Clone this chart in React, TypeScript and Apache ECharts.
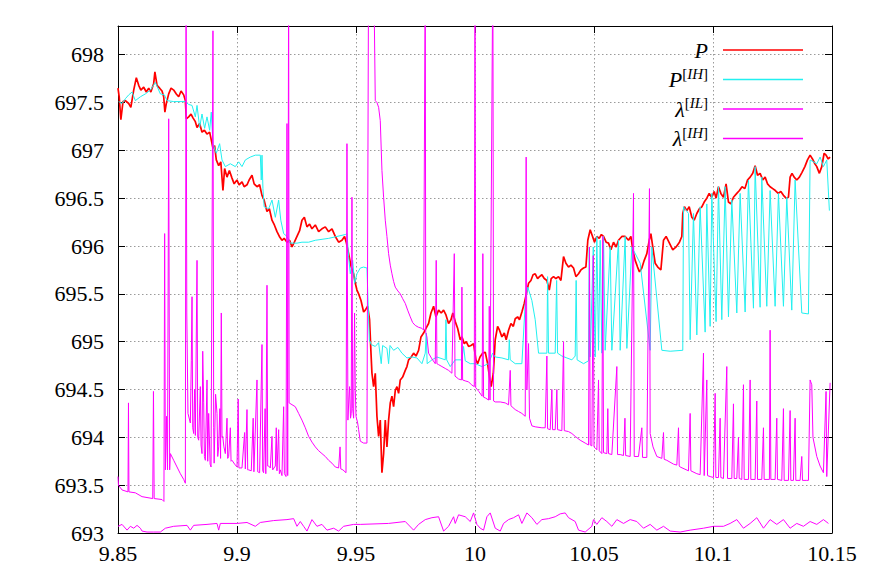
import React, { useEffect, useRef } from "react";
import * as echarts from "echarts";

// x tick and y tick settings
const X_MIN = 9.85;
const X_MAX = 10.15;
const X_STEP = 0.05;
const Y_MIN = 693;
const Y_MAX = 698.3;
const Y_STEP = 0.5;

const SERIES_NAMES = ["P", "P[IH]", "λ[IL]", "λ[IH]"];

const P_DATA: [number, number][] = [
  [9.85,697.65],[9.8505,697.56],[9.8512,697.32],[9.8521,697.51],[9.8531,697.52],[9.8545,697.49],[9.8554,697.45],[9.8566,697.63],[9.8577,697.76],[9.8587,697.68],[9.8596,697.63],[9.8608,697.66],[9.8619,697.61],[9.8629,697.65],[9.8638,697.61],[9.865,697.7],[9.8655,697.82],[9.8664,697.68],[9.8675,697.65],[9.8685,697.62],[9.8692,697.56],[9.8697,697.4],[9.8703,697.49],[9.8713,697.59],[9.8723,697.65],[9.8734,697.63],[9.8745,697.59],[9.8755,697.56],[9.8765,697.62],[9.8776,697.58],[9.8783,697.52],[9.8787,697.33],[9.8797,697.35],[9.8807,697.38],[9.8815,697.34],[9.8825,697.3],[9.8832,697.24],[9.8843,697.28],[9.8853,697.19],[9.8863,697.21],[9.8874,697.17],[9.8885,697.19],[9.8891,697.12],[9.8899,697.02],[9.8906,697.05],[9.8913,696.9],[9.8923,696.84],[9.8932,696.88],[9.8941,696.58],[9.8948,696.81],[9.8958,696.72],[9.8968,696.79],[9.8979,696.71],[9.8988,696.65],[9.9,696.69],[9.9009,696.64],[9.9021,696.67],[9.903,696.62],[9.9042,696.64],[9.9051,696.69],[9.9063,696.74],[9.9072,696.65],[9.9084,696.62],[9.9095,696.64],[9.9105,696.53],[9.9114,696.48],[9.9126,696.36],[9.9136,696.39],[9.9147,696.27],[9.9157,696.22],[9.9168,696.15],[9.9178,696.1],[9.9189,696.06],[9.9198,696.08],[9.921,696.04],[9.9221,696.06],[9.9231,695.99],[9.9241,696.04],[9.9252,696.1],[9.9263,696.16],[9.9273,696.27],[9.9283,696.3],[9.9294,696.2],[9.9305,696.23],[9.9315,696.18],[9.9329,696.22],[9.9343,696.15],[9.9357,696.18],[9.9371,696.2],[9.9385,696.15],[9.9399,696.18],[9.9413,696.1],[9.9427,696.04],[9.9441,696.06],[9.9452,696.1],[9.9459,696.04],[9.9469,695.92],[9.948,695.78],[9.949,695.71],[9.9497,695.61],[9.9504,695.54],[9.9511,695.5],[9.9521,695.43],[9.9532,695.31],[9.9539,695.33],[9.9549,695.37],[9.9557,695.23],[9.9563,694.88],[9.9567,694.67],[9.9574,694.53],[9.9581,694.67],[9.9588,694.22],[9.9595,694.01],[9.9602,694.18],[9.9609,693.63],[9.9616,693.83],[9.9623,694.18],[9.963,693.9],[9.9637,694.18],[9.9644,694.36],[9.9651,694.43],[9.9658,694.32],[9.9665,694.49],[9.9672,694.53],[9.9679,694.46],[9.9686,694.6],[9.9696,694.63],[9.9707,694.7],[9.9714,694.74],[9.9721,694.81],[9.9732,694.84],[9.9742,694.88],[9.9752,694.85],[9.9763,694.91],[9.9773,695.05],[9.9784,695.09],[9.9794,695.14],[9.9805,695.19],[9.9815,695.3],[9.9826,695.37],[9.9836,695.26],[9.9847,695.33],[9.9858,695.3],[9.9868,695.33],[9.9878,695.28],[9.9889,695.19],[9.9899,695.23],[9.9907,695.3],[9.9917,695.21],[9.9927,695.14],[9.9938,695.02],[9.9945,695.05],[9.9955,694.98],[9.9963,695.0],[9.9973,694.95],[9.9983,694.96],[9.9994,694.98],[10.0004,694.81],[10.0011,694.77],[10.0021,694.84],[10.0032,694.88],[10.0043,694.89],[10.0053,694.77],[10.0061,694.63],[10.0068,694.53],[10.0077,694.67],[10.0085,695.02],[10.0095,695.16],[10.0103,695.12],[10.0113,695.05],[10.0123,695.09],[10.0131,695.02],[10.0141,695.12],[10.0151,695.19],[10.0161,695.16],[10.0169,695.24],[10.0179,695.26],[10.0187,695.23],[10.0197,695.31],[10.0207,695.4],[10.0215,695.49],[10.0225,695.61],[10.0235,695.64],[10.0244,695.7],[10.0253,695.71],[10.0263,695.66],[10.0271,695.68],[10.0281,695.7],[10.0291,695.66],[10.0302,695.64],[10.0312,695.54],[10.032,695.66],[10.033,695.68],[10.034,695.66],[10.0351,695.68],[10.0361,695.64],[10.0372,695.89],[10.0382,695.82],[10.0393,695.78],[10.0403,695.8],[10.0414,695.77],[10.0424,695.68],[10.0435,695.71],[10.0445,695.75],[10.0456,695.77],[10.0466,695.78],[10.0474,696.06],[10.0484,696.17],[10.0494,696.1],[10.0502,696.04],[10.0512,696.1],[10.0522,696.08],[10.0531,696.12],[10.054,696.1],[10.0551,696.04],[10.0561,696.03],[10.0571,695.96],[10.0582,696.04],[10.0593,695.99],[10.0603,696.06],[10.0617,696.1],[10.0631,696.1],[10.0645,696.06],[10.0655,696.1],[10.0663,695.96],[10.0673,695.85],[10.0683,695.78],[10.0691,695.73],[10.0701,695.77],[10.0711,695.85],[10.0722,695.92],[10.0732,696.06],[10.0739,696.13],[10.0747,695.99],[10.0757,695.82],[10.0768,695.78],[10.0781,695.75],[10.0792,696.06],[10.0803,696.1],[10.0817,696.03],[10.0831,695.96],[10.0845,695.99],[10.0859,696.04],[10.0869,696.1],[10.0873,696.34],[10.088,696.41],[10.089,696.37],[10.09,696.41],[10.0911,696.3],[10.0921,696.27],[10.0932,696.34],[10.0943,696.39],[10.0953,696.41],[10.0963,696.46],[10.0974,696.5],[10.0984,696.55],[10.0994,696.51],[10.1005,696.57],[10.1013,696.5],[10.1023,696.62],[10.1033,696.55],[10.1044,696.51],[10.1055,696.65],[10.1065,696.46],[10.1075,696.44],[10.1086,696.51],[10.11,696.55],[10.1111,696.58],[10.1122,696.62],[10.1134,696.6],[10.1145,696.69],[10.1156,696.72],[10.1167,696.76],[10.1177,696.84],[10.1187,696.74],[10.1198,696.76],[10.1209,696.69],[10.1219,696.72],[10.1229,696.65],[10.124,696.62],[10.1251,696.6],[10.1262,696.58],[10.1274,696.55],[10.1285,696.57],[10.1296,696.53],[10.1307,696.5],[10.1317,696.51],[10.1324,696.72],[10.1332,696.76],[10.1341,696.72],[10.1352,696.69],[10.1363,696.72],[10.1374,696.77],[10.1386,696.83],[10.1397,696.9],[10.1408,696.95],[10.1418,696.91],[10.1428,696.86],[10.1436,696.83],[10.1447,696.76],[10.1457,696.83],[10.1467,696.97],[10.1475,696.95],[10.1484,696.91],[10.1492,696.93]
];

const PIH_DATA: [number, number][] = [
  [9.8503,697.51],[9.8517,697.49],[9.8531,697.54],[9.8545,697.58],[9.8559,697.61],[9.8573,697.52],[9.8594,697.56],[9.8615,697.59],[9.8636,697.63],[9.8657,697.71],[9.8678,697.59],[9.8695,697.58],[9.8706,697.52],[9.8734,697.51],[9.8783,697.51],[9.8797,697.48],[9.8811,697.47],[9.8825,697.35],[9.8832,697.47],[9.8843,697.24],[9.8853,697.38],[9.8864,697.23],[9.8874,697.35],[9.8885,697.21],[9.8892,697.4],[9.8899,697.07],[9.8913,696.97],[9.8927,697.07],[9.8937,696.9],[9.8951,696.83],[9.8972,696.86],[9.8993,696.83],[9.9007,696.88],[9.9021,696.83],[9.9035,696.9],[9.9056,696.93],[9.9077,696.95],[9.9098,696.95],[9.9102,696.69],[9.9105,696.95],[9.9109,696.6],[9.9114,696.41],[9.9133,696.39],[9.9147,696.48],[9.9161,696.3],[9.9175,696.48],[9.9184,696.27],[9.9196,696.13],[9.921,696.1],[9.9224,696.03],[9.9252,696.03],[9.9273,696.04],[9.9301,696.04],[9.9329,696.06],[9.9385,696.08],[9.9455,696.12],[9.9462,696.13],[9.9469,695.89],[9.9476,695.71],[9.9486,695.85],[9.9494,695.61],[9.9504,695.71],[9.9518,695.77],[9.9532,695.78],[9.9546,695.77],[9.9556,695.02],[9.9564,694.97],[9.9581,694.95],[9.9595,694.99],[9.9606,694.77],[9.9612,694.96],[9.963,694.93],[9.9637,694.77],[9.9643,694.96],[9.9658,694.91],[9.9676,694.94],[9.9693,694.88],[9.9714,694.83],[9.9735,694.84],[9.9756,694.83],[9.9777,694.77],[9.9791,694.88],[9.9795,695.09],[9.9799,694.77],[9.9819,694.81],[9.984,694.84],[9.9875,694.81],[9.9878,695.23],[9.9881,694.81],[9.9896,694.74],[9.9917,694.81],[9.9945,694.81],[9.9952,694.95],[9.9959,694.8],[9.998,694.77],[10.0001,694.77],[10.0029,694.74],[10.0057,694.77],[10.0074,694.88],[10.0085,694.84],[10.0113,694.83],[10.0141,694.81],[10.0144,695.02],[10.0148,694.81],[10.0169,694.77],[10.0197,694.77],[10.0211,695.4],[10.0222,695.57],[10.0239,695.43],[10.0253,695.23],[10.0267,694.88],[10.0302,694.88],[10.0305,695.68],[10.0309,694.88],[10.0337,694.88],[10.0343,695.64],[10.0347,694.88],[10.0365,694.85],[10.0386,694.83],[10.0407,694.81],[10.0421,694.85],[10.0425,695.64],[10.0429,694.81],[10.0456,694.77],[10.0477,694.8],[10.048,695.99],[10.0484,694.84],[10.0497,695.99],[10.0505,694.84],[10.0512,696.1],[10.0519,694.91],[10.0526,696.06],[10.0533,694.88],[10.054,696.1],[10.0547,694.91],[10.0568,695.99],[10.0575,694.91],[10.0603,696.06],[10.061,694.91],[10.0631,696.1],[10.0638,694.93],[10.0659,695.99],[10.0694,695.82],[10.0736,694.91],[10.0743,695.99],[10.0785,694.91],[10.082,694.9],[10.0873,694.91],[10.0876,696.41],[10.0897,696.34],[10.0904,695.02],[10.0918,696.34],[10.0932,695.07],[10.0946,696.41],[10.0967,695.1],[10.0974,696.44],[10.0988,695.16],[10.0995,696.55],[10.1013,695.21],[10.1023,696.62],[10.1037,695.23],[10.1051,696.62],[10.1065,695.26],[10.1079,696.48],[10.11,695.3],[10.1114,696.55],[10.1135,695.31],[10.1149,696.69],[10.117,695.35],[10.1177,696.83],[10.1198,695.36],[10.1205,696.72],[10.1226,695.37],[10.124,696.58],[10.1261,695.37],[10.1275,696.55],[10.1296,695.37],[10.131,696.51],[10.1331,695.33],[10.1345,696.69],[10.1373,695.3],[10.1401,695.29],[10.1408,696.9],[10.1436,696.86],[10.145,696.93],[10.1464,696.83],[10.1478,696.9],[10.1489,696.37]
];

const LIL_DATA: [number, number][] = [
  [9.85,693.59],[9.8502,693.5],[9.8517,693.45],[9.8542,693.43],[9.8544,694.36],[9.8546,693.43],[9.8573,693.42],[9.8601,693.38],[9.8646,693.36],[9.8649,694.48],[9.8652,693.36],[9.8685,693.35],[9.8693,693.33],[9.8696,696.13],[9.8699,693.66],[9.8704,694.22],[9.8708,693.66],[9.8713,697.33],[9.8717,693.66],[9.872,693.83],[9.8734,693.76],[9.8748,693.69],[9.8762,693.62],[9.8776,693.56],[9.8783,693.52],[9.8786,699],[9.8789,695.3],[9.8794,694.25],[9.8804,694.15],[9.8808,694.8],[9.8811,695.47],[9.8814,694.1],[9.8818,694.04],[9.8822,694.5],[9.8825,694.02],[9.8832,695.85],[9.8835,694.0],[9.8839,693.97],[9.8846,694.53],[9.8849,693.92],[9.8853,693.83],[9.8856,694.9],[9.886,694.36],[9.8863,693.8],[9.8867,693.76],[9.8874,694.6],[9.8877,693.75],[9.8881,694.25],[9.8887,693.72],[9.8891,693.69],[9.8899,698.25],[9.8902,694.1],[9.8904,693.73],[9.891,694.45],[9.8916,694.25],[9.8919,693.8],[9.8923,693.9],[9.8928,694.3],[9.8931,693.78],[9.8934,695.3],[9.8937,694.0],[9.894,694.01],[9.8945,693.9],[9.8951,693.83],[9.8958,694.2],[9.8961,693.78],[9.8965,693.8],[9.8972,694.1],[9.8975,693.75],[9.8979,693.76],[9.899,693.72],[9.9,693.69],[9.9005,694.4],[9.9008,693.68],[9.9021,693.68],[9.9032,694.05],[9.9035,693.67],[9.9042,694.29],[9.9045,693.66],[9.9049,693.66],[9.906,693.65],[9.9068,694.2],[9.9071,693.64],[9.9084,694.6],[9.9087,693.64],[9.9095,693.63],[9.9105,694.97],[9.9108,693.65],[9.9112,693.63],[9.9118,694.3],[9.9121,693.62],[9.9126,695.59],[9.9129,693.7],[9.9133,693.7],[9.914,693.68],[9.9147,694.01],[9.915,693.66],[9.9161,693.7],[9.9165,694.1],[9.9168,693.65],[9.9175,694.08],[9.9178,693.62],[9.9182,693.66],[9.9189,693.6],[9.9196,694.32],[9.9199,693.62],[9.9206,693.59],[9.921,697.28],[9.9213,693.6],[9.9217,699],[9.9219,694.36],[9.9245,694.32],[9.9259,694.25],[9.9273,694.18],[9.9287,694.1],[9.9301,694.01],[9.9315,693.95],[9.9329,693.9],[9.9343,693.86],[9.9357,693.83],[9.9371,693.8],[9.9385,693.76],[9.9399,693.73],[9.9413,693.69],[9.9427,693.68],[9.9433,693.9],[9.9436,693.67],[9.9445,693.66],[9.9458,693.63],[9.9462,697.07],[9.9466,694.18],[9.947,694.4],[9.9473,694.53],[9.9477,694.2],[9.948,694.25],[9.9483,696.51],[9.9486,694.3],[9.949,694.2],[9.9494,695.3],[9.9497,694.49],[9.95,694.22],[9.9507,694.15],[9.9511,694.08],[9.9518,693.96],[9.9532,693.94],[9.9546,693.94],[9.9553,699],[9.9574,699],[9.9581,697.52],[9.9588,697.5],[9.9595,697.45],[9.9602,697.31],[9.9609,696.79],[9.9616,696.51],[9.9623,696.27],[9.963,696.1],[9.9637,695.92],[9.9644,695.8],[9.9651,695.71],[9.9658,695.63],[9.9665,695.57],[9.9676,695.53],[9.9686,695.5],[9.9696,695.45],[9.9707,695.4],[9.9717,695.33],[9.9728,695.26],[9.9738,695.2],[9.9749,695.17],[9.9763,695.15],[9.9777,695.14],[9.9784,695.12],[9.9791,699],[9.9793,695.1],[9.9798,695.05],[9.9805,694.88],[9.9819,694.82],[9.9833,694.77],[9.9837,695.85],[9.984,694.77],[9.9847,694.76],[9.9861,694.74],[9.9875,694.72],[9.9889,694.7],[9.9903,694.67],[9.9913,695.92],[9.9916,694.64],[9.9931,694.61],[9.9943,694.6],[9.9945,695.57],[9.9948,694.6],[9.9959,694.59],[9.9973,694.58],[9.9985,694.55],[9.9997,694.53],[10.0,699],[10.0003,694.52],[10.0016,694.48],[10.003,694.43],[10.0033,695.92],[10.0036,694.42],[10.0045,694.41],[10.0057,694.39],[10.006,695.37],[10.0063,694.39],[10.0075,699],[10.0078,694.38],[10.0085,694.37],[10.0106,694.37],[10.0127,694.36],[10.0141,694.34],[10.0148,694.7],[10.0151,694.33],[10.0169,694.29],[10.0183,694.27],[10.0197,694.25],[10.0211,694.22],[10.0215,696.93],[10.0218,694.5],[10.0225,694.98],[10.0229,694.2],[10.0239,694.12],[10.0253,694.11],[10.0281,694.1],[10.0295,694.1],[10.0302,694.85],[10.0305,694.09],[10.0316,694.08],[10.0323,694.5],[10.0326,694.08],[10.0337,694.08],[10.0344,694.5],[10.0347,694.08],[10.0365,694.07],[10.0372,695.0],[10.0375,694.07],[10.0393,694.06],[10.0407,694.04],[10.0421,694.01],[10.0442,693.97],[10.0463,693.94],[10.0477,693.92],[10.0481,695.99],[10.0484,693.92],[10.0491,693.91],[10.0497,695.9],[10.05,693.9],[10.0505,693.89],[10.0512,693.87],[10.0519,694.6],[10.0522,693.86],[10.0533,693.83],[10.0537,696.1],[10.054,693.84],[10.0554,693.83],[10.0558,694.3],[10.0561,693.83],[10.0575,693.82],[10.0596,694.74],[10.0599,693.82],[10.061,693.82],[10.0624,693.81],[10.063,694.2],[10.0633,693.81],[10.0652,693.8],[10.0666,696.55],[10.0669,693.8],[10.0687,693.8],[10.0701,694.1],[10.0704,693.79],[10.0722,693.79],[10.0733,696.6],[10.0736,694.04],[10.0748,693.9],[10.0764,693.8],[10.0785,693.78],[10.0792,694.05],[10.0795,693.77],[10.0806,693.76],[10.0834,693.72],[10.0848,693.71],[10.0855,694.1],[10.0858,693.7],[10.0862,693.69],[10.0897,693.65],[10.0904,694.25],[10.0907,693.65],[10.0932,693.62],[10.0946,693.61],[10.096,694.88],[10.0963,693.6],[10.0974,694.6],[10.0977,693.6],[10.0988,693.59],[10.1002,693.58],[10.1009,694.46],[10.1012,693.58],[10.1023,693.58],[10.103,694.2],[10.1033,693.58],[10.1044,693.57],[10.1058,694.74],[10.1061,693.57],[10.1079,693.57],[10.1086,694.35],[10.1089,693.57],[10.11,693.57],[10.1107,694.0],[10.111,693.57],[10.1121,693.56],[10.1128,694.55],[10.1131,693.56],[10.1149,693.56],[10.1156,694.6],[10.1159,693.56],[10.1177,693.56],[10.1184,694.38],[10.1187,693.56],[10.1205,693.56],[10.1212,694.1],[10.1215,693.56],[10.1237,693.56],[10.124,695.12],[10.1243,693.56],[10.1261,693.56],[10.1268,694.2],[10.1271,693.56],[10.1289,693.55],[10.1296,694.3],[10.1299,693.55],[10.1317,693.55],[10.1324,694.28],[10.1327,693.55],[10.1338,693.55],[10.1345,694.2],[10.1348,693.55],[10.1366,693.55],[10.1373,693.8],[10.1376,693.55],[10.1394,693.55],[10.1401,693.55],[10.1408,694.6],[10.1415,694.55],[10.142,694.0],[10.1436,693.8],[10.145,693.7],[10.1464,693.63],[10.1475,694.48],[10.1478,693.59],[10.1492,694.57]
];

const LIH_DATA: [number, number][] = [
  [9.85,693.07],[9.8517,693.09],[9.8538,693.03],[9.8552,693.07],[9.8566,693.05],[9.858,693.08],[9.8594,693.05],[9.8601,693.02],[9.8622,693.01],[9.865,693.01],[9.8678,693.01],[9.8699,693.05],[9.8734,693.07],[9.879,693.08],[9.8804,693.03],[9.8818,693.08],[9.8874,693.09],[9.8916,693.1],[9.8923,693.03],[9.893,693.1],[9.9,693.1],[9.9042,693.11],[9.9077,693.07],[9.9098,693.11],[9.9154,693.13],[9.921,693.14],[9.9238,693.15],[9.9252,693.07],[9.9266,693.12],[9.928,693.07],[9.9294,693.02],[9.9315,693.14],[9.9336,693.07],[9.9357,693.09],[9.9378,693.03],[9.9406,693.05],[9.9427,693.02],[9.9448,693.07],[9.949,693.09],[9.9518,693.09],[9.9637,693.1],[9.9707,693.12],[9.9742,693.03],[9.9763,693.09],[9.9791,693.14],[9.9819,693.16],[9.9847,693.17],[9.9868,693.02],[9.9889,693.07],[9.991,693.17],[9.9917,693.1],[9.9931,693.19],[9.9959,693.17],[9.998,693.12],[9.9994,693.21],[10.0008,693.09],[10.0022,693.05],[10.0036,693.03],[10.005,693.17],[10.0064,693.21],[10.0085,693.05],[10.0106,693.02],[10.012,693.1],[10.0141,693.14],[10.0162,693.16],[10.0183,693.19],[10.0197,693.1],[10.0218,693.21],[10.0239,693.16],[10.026,693.09],[10.0281,693.14],[10.0309,693.15],[10.0337,693.17],[10.0358,693.2],[10.0379,693.21],[10.0393,693.16],[10.0421,693.12],[10.0435,693.03],[10.0463,693.01],[10.0491,693.07],[10.0498,693.14],[10.0512,693.09],[10.0533,693.16],[10.0554,693.12],[10.0575,693.07],[10.0596,693.14],[10.0624,693.1],[10.0652,693.14],[10.068,693.12],[10.0708,693.05],[10.0736,693.09],[10.0764,693.03],[10.0792,693.07],[10.082,693.02],[10.0862,693.01],[10.0904,693.03],[10.096,693.05],[10.1002,693.07],[10.1044,693.07],[10.1072,693.1],[10.11,693.14],[10.1128,693.05],[10.1156,693.1],[10.1184,693.16],[10.1212,693.05],[10.124,693.14],[10.1268,693.09],[10.1296,693.14],[10.1324,693.05],[10.1352,693.1],[10.138,693.07],[10.1408,693.12],[10.1436,693.09],[10.1464,693.14],[10.1485,693.1]
];

const SERIF = "Liberation Serif";

const COLORS: Record<string, string> = {
  "P": "#ff0000",
  "P[IH]": "#22f0f0",
  "λ[IL]": "#ff00ff",
  "λ[IH]": "#ff00ff",
};

const LEGEND_RICH: Record<string, string> = {
  "P": "{it|P}",
  "P[IH]": "{it|P}{sb|[}{si|IH}{sb|]}",
  "λ[IL]": "{it|λ}{sb|[}{si|IL}{sb|]}",
  "λ[IH]": "{it|λ}{sb|[}{si|IH}{sb|]}",
};

export default function App() {
  const ref = useRef<HTMLDivElement>(null);

  useEffect(() => {
    if (!ref.current) return;
    const chart = echarts.init(ref.current, undefined, { renderer: "svg" });

    const axisCommon = {
      type: "value" as const,
      axisLine: { show: true, onZero: false, lineStyle: { color: "#000", width: 1 } },
      axisTick: { show: true, inside: true, length: 7, lineStyle: { color: "#000", width: 1 } },
    };

    const gridLine = { show: true, lineStyle: { color: "#9a9a9a", width: 1, type: [1.5, 2.5] } };

    const option: any = {
      animation: false,
      backgroundColor: "#fff",
      textStyle: { fontFamily: SERIF },
      grid: { left: 118, right: 40, top: 26, bottom: 47, containLabel: false },
      legend: {
        orient: "vertical",
        right: 64,
        top: 34,
        align: "right",
        itemWidth: 80,
        itemHeight: 1.6,
        itemGap: 5,
        selectedMode: false,
        data: SERIES_NAMES.map((n) => ({ name: n, icon: "rect", itemStyle: { color: COLORS[n] } })),
        formatter: (name: string) => LEGEND_RICH[name] || name,
        textStyle: {
          color: "#000",
          fontFamily: SERIF,
          padding: [0, 10, 0, 0],
          rich: {
            it: { fontFamily: SERIF, fontStyle: "italic", fontSize: 22, lineHeight: 27, color: "#000", verticalAlign: "middle" },
            sb: { fontFamily: SERIF, fontSize: 15, lineHeight: 15, color: "#000", verticalAlign: "top" },
            si: { fontFamily: SERIF, fontStyle: "italic", fontSize: 15, lineHeight: 15, color: "#000", verticalAlign: "top" },
          },
        },
      },
      xAxis: [
        {
          ...axisCommon,
          position: "bottom",
          min: X_MIN,
          max: X_MAX,
          interval: X_STEP,
          axisLabel: { fontFamily: SERIF, fontSize: 22, color: "#000", margin: 9 },
          splitLine: gridLine,
        },
        {
          ...axisCommon,
          position: "top",
          min: X_MIN,
          max: X_MAX,
          interval: X_STEP,
          axisLabel: { show: false },
          splitLine: { show: false },
        },
      ],
      yAxis: [
        {
          ...axisCommon,
          position: "left",
          min: Y_MIN,
          max: Y_MAX,
          interval: Y_STEP,
          axisLabel: { fontFamily: SERIF, fontSize: 22, color: "#000", margin: 14, showMaxLabel: false },
          splitLine: gridLine,
        },
        {
          ...axisCommon,
          position: "right",
          min: Y_MIN,
          max: Y_MAX,
          interval: Y_STEP,
          axisLabel: { show: false },
          splitLine: { show: false },
        },
      ],
      series: [
        {
          name: "P",
          type: "line",
          data: P_DATA,
          symbol: "none",
          clip: true,
          lineStyle: { color: COLORS["P"], width: 1.7 },
          itemStyle: { color: COLORS["P"] },
        },
        {
          name: "P[IH]",
          type: "line",
          data: PIH_DATA,
          symbol: "none",
          clip: true,
          lineStyle: { color: COLORS["P[IH]"], width: 1 },
          itemStyle: { color: COLORS["P[IH]"] },
        },
        {
          name: "λ[IL]",
          type: "line",
          data: LIL_DATA,
          symbol: "none",
          clip: true,
          lineStyle: { color: COLORS["λ[IL]"], width: 1 },
          itemStyle: { color: COLORS["λ[IL]"] },
        },
        {
          name: "λ[IH]",
          type: "line",
          data: LIH_DATA,
          symbol: "none",
          clip: true,
          lineStyle: { color: COLORS["λ[IH]"], width: 1 },
          itemStyle: { color: COLORS["λ[IH]"] },
        },
      ],
    };

    chart.setOption(option);
    return () => chart.dispose();
  }, []);

  return (
    <div
      ref={ref}
      style={{ position: "absolute", left: 0, top: 0, width: 872, height: 580, background: "#fff" }}
    />
  );
}
